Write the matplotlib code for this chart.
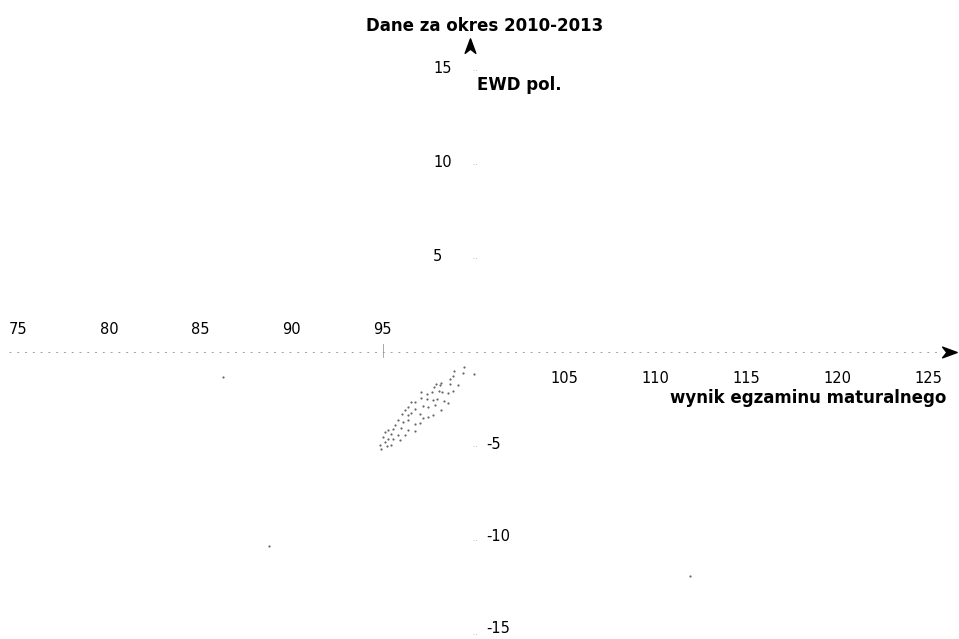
import matplotlib
matplotlib.use("Agg")
import matplotlib.pyplot as plt
from matplotlib.path import Path

# ---- data ----
title = "Dane za okres 2010-2013"
x_label = "wynik egzaminu maturalnego"
y_label = "EWD pol."
x_ticks = [75, 80, 85, 90, 95, 105, 110, 115, 120, 125]
y_ticks = [15, 10, 5, -5, -10, -15]

wynik = [99.53, 98.94, 98.89, 99.47, 100.07, 98.76, 98.25, 97.98, 97.85, 98.18,
         98.76, 99.16, 97.74, 98.11, 98.29, 98.65, 98.89, 97.49, 97.12, 96.61,
         96.79, 97.16, 97.45, 97.80, 98.03, 98.40, 98.65, 96.43, 96.25, 96.79,
         97.25, 97.52, 97.89, 98.22, 96.07, 96.43, 96.61, 97.07, 97.25, 97.52,
         97.80, 95.88, 96.16, 96.43, 96.79, 97.07, 95.70, 95.61, 96.03, 96.43,
         96.79, 95.34, 95.16, 95.52, 95.88, 96.25, 95.06, 95.34, 95.61, 95.97,
         95.16, 94.88, 95.25, 95.52, 94.97, 86.26, 88.8, 111.9]
ewd = [-0.82, -1.00, -1.27, -1.14, -1.19, -1.46, -1.64, -1.73, -1.85, -1.78,
       -1.71, -1.78, -2.12, -2.09, -2.12, -2.17, -2.07, -2.25, -2.12, -2.66,
       -2.66, -2.43, -2.53, -2.57, -2.53, -2.60, -2.71, -2.92, -3.10, -3.01,
       -2.89, -2.92, -2.83, -3.10, -3.28, -3.37, -3.24, -3.28, -3.49, -3.46,
       -3.37, -3.64, -3.73, -3.64, -3.81, -3.78, -3.90, -4.08, -4.03, -4.13,
       -4.21, -4.17, -4.26, -4.35, -4.40, -4.44, -4.53, -4.62, -4.65, -4.67,
       -4.79, -4.97, -5.03, -4.97, -5.15, -1.33, -10.3, -11.9]

# ---- figure ----
W, H = 959, 639
fig = plt.figure(figsize=(W / 100, H / 100), dpi=100)
ax = fig.add_axes([0, 0, 1, 1])
ax.set_xlim(74.01, 126.70)
ax.set_ylim(-15.27, 18.72)
ax.axis("off")

# x axis line (faint, broken)
ax.plot([74.5, 125.6], [0, 0], color="#a0a0a0", lw=0.7, ls=(0, (2, 6)), zorder=1)
# tick at 95
ax.plot([95.05, 95.05], [-0.25, 0.4], color="#999999", lw=0.6)
# y ticks (tiny marks)
for v in y_ticks:
    ax.plot([100.0, 100.25], [v, v], color="#aaaaaa", lw=0.6, ls=(0, (1, 2)))

# scatter points
ax.scatter(wynik, ewd, s=2.5, color="#666666", linewidths=0, zorder=3)

# arrowheads
up = Path([(0, 1), (-0.7, -0.9), (0, -0.35), (0.7, -0.9), (0, 1)],
          [Path.MOVETO, Path.LINETO, Path.LINETO, Path.LINETO, Path.CLOSEPOLY])
right = Path([(1, 0), (-0.9, 0.7), (-0.35, 0), (-0.9, -0.7), (1, 0)],
             [Path.MOVETO, Path.LINETO, Path.LINETO, Path.LINETO, Path.CLOSEPOLY])
ax.plot([99.85], [16.25], marker=up, markersize=11, color="black", lw=0)
ax.plot([126.15], [0], marker=right, markersize=11, color="black", lw=0)

# tick labels
fs = 10.5
for v in x_ticks:
    if v < 100:
        ax.text(v, 1.2, str(v), ha="center", va="center", fontsize=fs)
    else:
        ax.text(v, -1.4, str(v), ha="center", va="center", fontsize=fs)
for v in y_ticks:
    if v > 0:
        ax.text(97.80, v + 0.1, str(v), ha="left", va="center", fontsize=fs)
    else:
        ax.text(100.7, v + 0.02 * abs(v), str(v), ha="left", va="center", fontsize=fs)

# axis labels and title
ax.text(100.2, 14.2, y_label, ha="left", va="center", fontsize=12, fontweight="bold")
ax.text(126.0, -2.45, x_label, ha="right", va="center", fontsize=12, fontweight="bold")
fig.text(485 / W, 1 - 26 / H, title, ha="center", va="center", fontsize=12, fontweight="bold")

fig.savefig("out.png", dpi=100)
